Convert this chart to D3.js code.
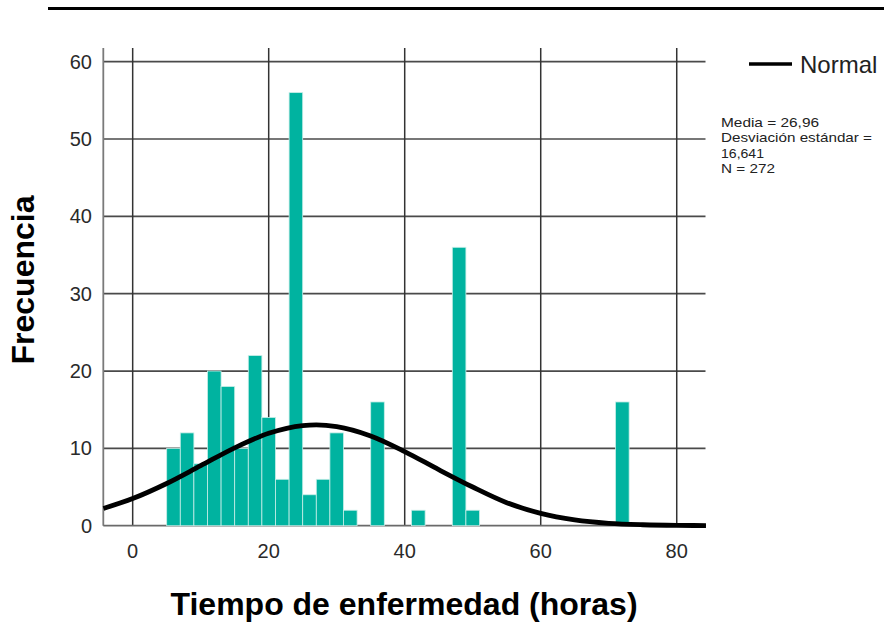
<!DOCTYPE html>
<html><head><meta charset="utf-8">
<script src="https://cdn.jsdelivr.net/npm/d3@7"></script>
<style>
html,body{margin:0;padding:0;background:#fff;}
svg{display:block;font-family:"Liberation Sans",Arial,sans-serif;}
</style></head>
<body>
<svg id="chart" width="884" height="624"></svg>
<script>
// ---- data ----
const binCenters = [6,8,10,12,14,16,18,20,22,24,26,28,30,32,36,42,48,50,72];
const counts     = [10,12,8,20,18,10,22,14,6,56,4,6,12,2,16,2,36,2,16];
const binWidth = 2;
const xTicks = [0,20,40,60,80];
const yTicks = [0,10,20,30,40,50,60];
const normalX = [-4.3,0,5,10,15,20,25,27,30,35,40,45,50,55,60,65,70,75,80,84.3];
const normalY = [2.23,3.51,5.46,7.76,10.07,11.95,12.95,13.04,12.82,11.61,9.59,7.25,5.0,2.98,1.59,0.75,0.31,0.12,0.04,0.02];
const statsLines = ["Media = 26,96","Desviación estándar =","16,641","N = 272"];
const legendLabel = "Normal";
const xTitle = "Tiempo de enfermedad (horas)";
const yTitle = "Frecuencia";

// ---- layout ----
const svg = d3.select("#chart");
const L = 103.3, R = 705.5, T = 48, B = 525.7;
const x = d3.scaleLinear().domain([-4.32, 84.23]).range([L, R]);
const y = d3.scaleLinear().domain([0, 61.77]).range([B, T]);

// top rule
svg.append("line").attr("x1",48).attr("x2",884).attr("y1",8.5).attr("y2",8.5)
  .attr("stroke","#000").attr("stroke-width",3);

// grid
const grid = svg.append("g");
grid.selectAll("line.h").data(yTicks.filter(d=>d>0)).join("line")
  .attr("x1",L).attr("x2",R).attr("y1",d=>y(d)).attr("y2",d=>y(d))
  .attr("stroke","#4a4a4a").attr("stroke-width",1.7);
grid.selectAll("line.v").data(xTicks).join("line")
  .attr("x1",d=>x(d)).attr("x2",d=>x(d)).attr("y1",T).attr("y2",B)
  .attr("stroke","#333").attr("stroke-width",1.5);
// frame (left + bottom)
svg.append("line").attr("x1",L).attr("x2",L).attr("y1",T).attr("y2",B)
  .attr("stroke","#7a7a7a").attr("stroke-width",1.8);
svg.append("line").attr("x1",L).attr("x2",R).attr("y1",B).attr("y2",B)
  .attr("stroke","#6a6a6a").attr("stroke-width",1.8);

// bars
svg.append("g").selectAll("rect").data(binCenters.map((c,i)=>({c, v:counts[i]}))).join("rect")
  .attr("x",d=>x(d.c-binWidth/2))
  .attr("width",d=>x(d.c+binWidth/2)-x(d.c-binWidth/2))
  .attr("y",d=>y(d.v))
  .attr("height",d=>B-y(d.v))
  .attr("fill","#00b3a0")
  .attr("stroke","#c8eee8").attr("stroke-width",0.8);

// normal curve
const pts = normalX.map((v,i)=>[v, normalY[i]]);
svg.append("path").datum(pts)
  .attr("d", d3.line().x(d=>x(d[0])).y(d=>y(d[1])).curve(d3.curveMonotoneX))
  .attr("fill","none").attr("stroke","#000").attr("stroke-width",4.8)
  .attr("stroke-linecap","butt");

// axes labels
const tickFont = 20;
svg.append("g").selectAll("text").data(yTicks).join("text")
  .attr("x",92).attr("y",d=>y(d)+7).attr("text-anchor","end")
  .attr("font-size",tickFont).attr("fill","#2a2a2a").text(d=>d);
svg.append("g").selectAll("text").data(xTicks).join("text")
  .attr("x",d=>x(d)).attr("y",558).attr("text-anchor","middle")
  .attr("font-size",tickFont).attr("fill","#2a2a2a").text(d=>d);

// titles
svg.append("text").attr("x",404).attr("y",615).attr("text-anchor","middle")
  .attr("font-size",32).attr("font-weight","bold").attr("fill","#000").text(xTitle);
svg.append("text").attr("transform","translate(34,280) rotate(-90)").attr("text-anchor","middle")
  .attr("font-size",32).attr("font-weight","bold").attr("fill","#000").text(yTitle);

// legend
svg.append("line").attr("x1",749).attr("x2",792).attr("y1",64).attr("y2",64)
  .attr("stroke","#000").attr("stroke-width",3.5);
svg.append("text").attr("x",800).attr("y",73).attr("font-size",24).attr("fill","#222").text(legendLabel);

const statY = [127,142,158,173];
const statW = [98,151,43,54];
svg.append("g").selectAll("text").data(statsLines).join("text")
  .attr("x",721).attr("y",(d,i)=>statY[i]).attr("font-size",13.5).attr("fill","#222")
  .attr("textLength",(d,i)=>statW[i]).attr("lengthAdjust","spacingAndGlyphs").text(d=>d);
</script>
</body></html>
